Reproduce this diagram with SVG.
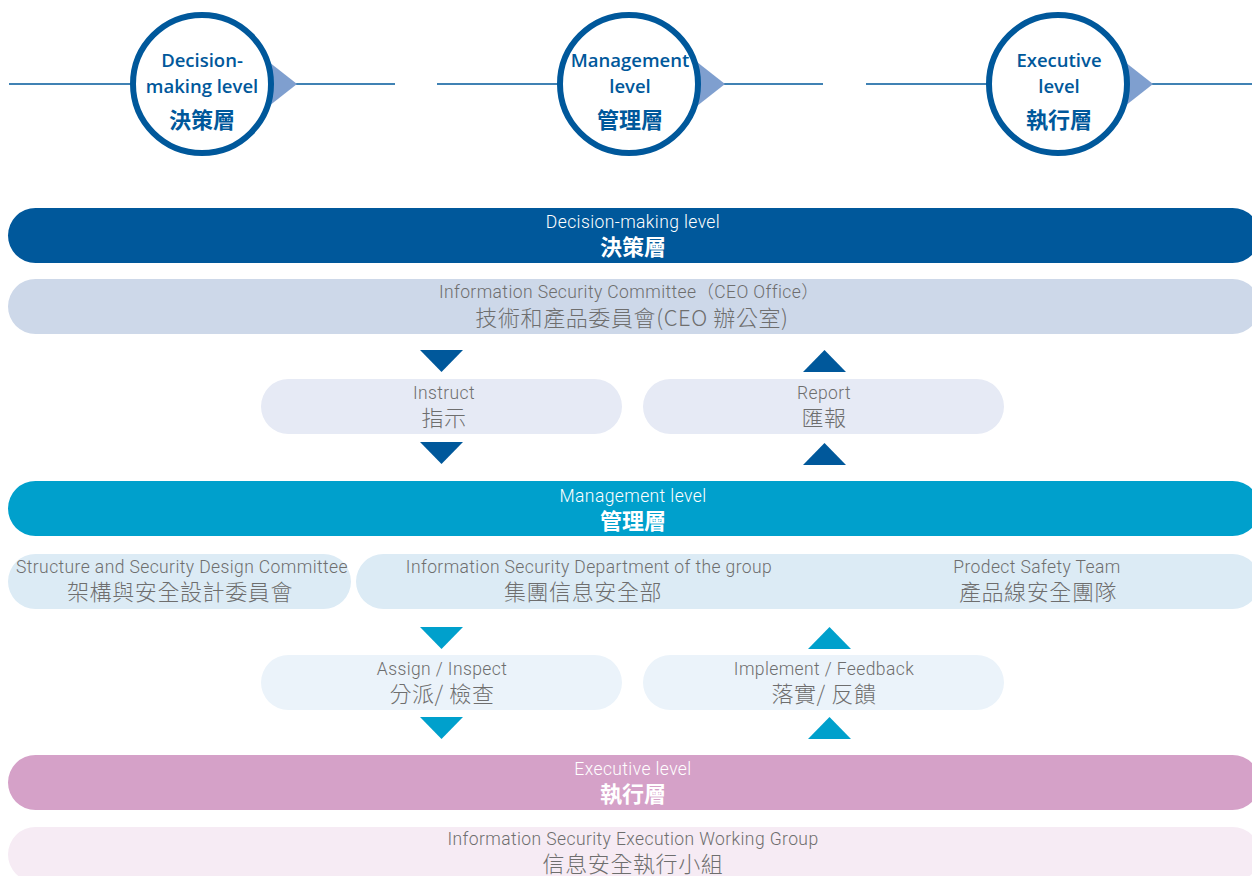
<svg xmlns="http://www.w3.org/2000/svg" width="1252" height="876" viewBox="0 0 1252 876">
<style>
.hl{stroke:#00589b;stroke-width:1.5;fill:none}
.tri{fill:#7f9fcf}
.circ{fill:#fff;stroke:#00589b;stroke-width:6}
.ct{font-family:"Open Sans","Noto Sans CJK TC",sans-serif;font-weight:600;font-size:18.5px;fill:#00589b;text-anchor:middle}
.cc{font-family:"Noto Sans CJK TC",sans-serif;font-weight:700;font-size:22px;fill:#00589b;text-anchor:middle}
.en{font-family:Roboto,"Noto Sans CJK TC",sans-serif;font-weight:300;font-size:17.5px;letter-spacing:0.4px;fill:#6e6e6e;text-anchor:middle}
.zh{font-family:"Noto Sans CJK TC",sans-serif;font-weight:300;font-size:22px;letter-spacing:0.6px;fill:#6e6e6e;text-anchor:middle}
.ew{font-family:Roboto,sans-serif;font-weight:300;font-size:17.5px;letter-spacing:0.4px;fill:#fff;text-anchor:middle}
.zw{font-family:"Noto Sans CJK TC",sans-serif;font-weight:700;font-size:22px;fill:#fff;text-anchor:middle}
.dk{fill:#00589b}
.cy{fill:#00a0cc}
</style>

<g id="connectors">
  <line class="hl" x1="9" y1="84" x2="395" y2="84"/>
  <line class="hl" x1="437" y1="84" x2="823" y2="84"/>
  <line class="hl" x1="866" y1="84" x2="1252" y2="84"/>
  <polygon class="tri" points="255,51 297,84 255,117"/>
  <polygon class="tri" points="683,51 725,84 683,117"/>
  <polygon class="tri" points="1111,51 1153,84 1111,117"/>
  <polygon class="dk" points="420,350 463,350 441.5,372"/>
  <polygon class="dk" points="420,442 463,442 441.5,464"/>
  <polygon class="dk" points="803,372 846,372 824.5,350"/>
  <polygon class="dk" points="803,465 846,465 824.5,443"/>
  <polygon class="cy" points="420,627 463,627 441.5,649"/>
  <polygon class="cy" points="420,717 463,717 441.5,739"/>
  <polygon class="cy" points="808,649 851,649 829.5,627"/>
  <polygon class="cy" points="808,739 851,739 829.5,717"/>
</g>

<g id="circle-decision">
  <circle class="circ" cx="202" cy="84" r="69"/>
  <text class="ct" x="202" y="67">Decision-</text>
  <text class="ct" x="202" y="93">making level</text>
  <text class="cc" x="202" y="128">決策層</text>
</g>
<g id="circle-management">
  <circle class="circ" cx="629" cy="84" r="69"/>
  <text class="ct" x="630" y="67">Management</text>
  <text class="ct" x="630" y="93">level</text>
  <text class="cc" x="630" y="128">管理層</text>
</g>
<g id="circle-executive">
  <circle class="circ" cx="1058" cy="84" r="69"/>
  <text class="ct" x="1059" y="67">Executive</text>
  <text class="ct" x="1059" y="93">level</text>
  <text class="cc" x="1059" y="128">執行層</text>
</g>

<g id="bar-decision">
  <rect x="8" y="208" width="1252" height="55" rx="27.5" fill="#00589b"/>
  <text class="ew" x="633" y="228">Decision-making level</text>
  <text class="zw" x="633" y="255">決策層</text>
</g>
<g id="bar-committee">
  <rect x="8" y="279" width="1252" height="55" rx="27.5" fill="#cdd8e9"/>
  <text class="en" x="629" y="298">Information Security Committee（CEO Office）</text>
  <text class="zh" x="632" y="326">技術和產品委員會(CEO 辦公室)</text>
</g>
<g id="pill-instruct">
  <rect x="261" y="379" width="361" height="55" rx="27.5" fill="#e6eaf5"/>
  <text class="en" x="444" y="399">Instruct</text>
  <text class="zh" x="444" y="426">指示</text>
</g>
<g id="pill-report">
  <rect x="643" y="379" width="361" height="55" rx="27.5" fill="#e6eaf5"/>
  <text class="en" x="824" y="399">Report</text>
  <text class="zh" x="824" y="426">匯報</text>
</g>
<g id="bar-management">
  <rect x="8" y="481" width="1252" height="55" rx="27.5" fill="#00a0cc"/>
  <text class="ew" x="633" y="502">Management level</text>
  <text class="zw" x="633" y="529">管理層</text>
</g>
<g id="box-structure">
  <rect x="8" y="554" width="343" height="55" rx="27.5" fill="#dcebf5"/>
  <text class="en" x="182" y="573">Structure and Security Design Committee</text>
  <text class="zh" x="180" y="600">架構與安全設計委員會</text>
</g>
<g id="box-group">
  <rect x="356" y="554" width="904" height="55" rx="27.5" fill="#dcebf5"/>
  <text class="en" x="589" y="573">Information Security Department of the group</text>
  <text class="zh" x="583" y="600">集團信息安全部</text>
  <text class="en" x="1037" y="573">Prodect Safety Team</text>
  <text class="zh" x="1038" y="600">產品線安全團隊</text>
</g>
<g id="pill-assign">
  <rect x="261" y="655" width="361" height="55" rx="27.5" fill="#ebf3fa"/>
  <text class="en" x="442" y="675">Assign / Inspect</text>
  <text class="zh" x="442" y="702">分派/ 檢查</text>
</g>
<g id="pill-implement">
  <rect x="643" y="655" width="361" height="55" rx="27.5" fill="#ebf3fa"/>
  <text class="en" x="824" y="675">Implement / Feedback</text>
  <text class="zh" x="824" y="702">落實/ 反饋</text>
</g>
<g id="bar-executive">
  <rect x="8" y="755" width="1252" height="55" rx="27.5" fill="#d5a1c8"/>
  <text class="ew" x="633" y="775">Executive level</text>
  <text class="zw" x="633" y="802">執行層</text>
</g>
<g id="bar-working">
  <rect x="8" y="827" width="1252" height="55" rx="27.5" fill="#f6ebf4"/>
  <text class="en" x="633" y="845">Information Security Execution Working Group</text>
  <text class="zh" x="633" y="872">信息安全執行小組</text>
</g>
</svg>
